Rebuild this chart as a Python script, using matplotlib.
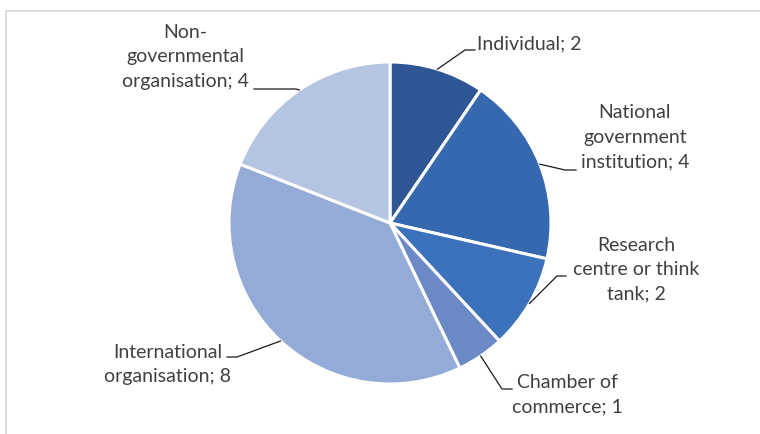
import numpy as np
import matplotlib.pyplot as plt
from matplotlib.lines import Line2D

plt.rcParams['font.family'] = ['Lato', 'DejaVu Sans']

categories = ["Individual", "National government institution", "Research centre or think tank",
              "Chamber of commerce", "International organisation", "Non-governmental organisation"]
counts = [2, 4, 2, 1, 8, 4]
label_lines = [
    ["Individual; 2"],
    ["National", "government", "institution; 4"],
    ["Research", "centre or think", "tank; 2"],
    ["Chamber of", "commerce; 1"],
    ["International", "organisation; 8"],
    ["Non-", "governmental", "organisation; 4"],
]
colors = ["#2E5594", "#3668B0", "#3C71BB", "#6C89C7", "#94ABD7", "#B5C4E0"]

W, H = 760, 434
TEXT = "#404040"

# label layout in pixels from top-left: (text x, first line y, align, elbow, line end)
label_layout = [
    (477, 44, "left", (465, 50), (475, 50)),
    (635, 113, "center", (565, 170), (576, 170)),
    (636, 245, "center", (557, 276), (566, 276)),
    (567, 382, "center", (502, 389), (512, 389)),
    (168, 352, "center", (237, 357), (227, 357)),
    (185, 32, "center", (296, 89), (254, 89)),
]
line_step = 24.5


def fpix(x, y):
    return x / W, 1 - y / H


fig = plt.figure(figsize=(W / 100, H / 100), dpi=100)

# pie centred at (390, 223) px, radius 161 px
cx, cy, r = 390, 223, 161
ax = fig.add_axes([(cx - r) / W, 1 - (cy + r) / H, 2 * r / W, 2 * r / H])
wedges, _ = ax.pie(counts, colors=colors, startangle=90, counterclock=False, radius=1,
                   wedgeprops=dict(edgecolor="white", linewidth=2.2))
ax.set_xlim(-1, 1)
ax.set_ylim(-1, 1)
ax.set_aspect("equal")
ax.axis("off")

# chart frame (top and left edges visible)
fig.add_artist(Line2D([6 / W, 1], [1 - 10.5 / H] * 2, transform=fig.transFigure,
                      color="#D9D9D9", lw=1.3))
fig.add_artist(Line2D([6 / W] * 2, [1 - 10.5 / H, 0], transform=fig.transFigure,
                      color="#D9D9D9", lw=1.3))

to_fig = ax.transData + fig.transFigure.inverted()
for w, lines, (tx, ty, ha, elbow, end) in zip(wedges, label_lines, label_layout):
    mid = np.deg2rad((w.theta1 + w.theta2) / 2)
    start = to_fig.transform((np.cos(mid), np.sin(mid)))
    p1 = fpix(*elbow)
    p2 = fpix(*end)
    fig.add_artist(Line2D([start[0], p1[0], p2[0]], [start[1], p1[1], p2[1]],
                          transform=fig.transFigure, color="#1a1a1a", lw=0.9))
    for i, txt in enumerate(lines):
        x, y = fpix(tx, ty + i * line_step)
        fig.text(x, y, txt, ha=ha, va="center", fontsize=14, color=TEXT)

fig.savefig("out.png", dpi=100, facecolor="white")
